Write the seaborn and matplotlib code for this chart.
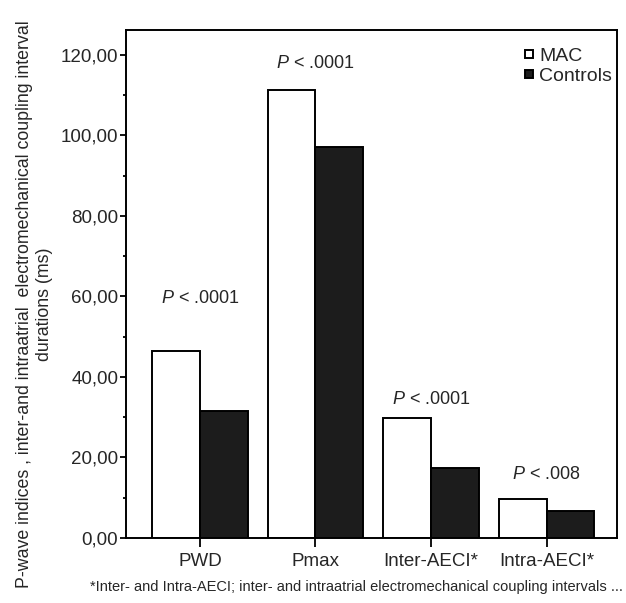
import matplotlib
matplotlib.use("Agg")
import matplotlib.pyplot as plt
import seaborn as sns
import pandas as pd
from matplotlib.lines import Line2D
from matplotlib.ticker import MultipleLocator, FuncFormatter

categories = ["PWD", "Pmax", "Inter-AECI*", "Intra-AECI*"]
mac_values = [46.5, 111.3, 29.8, 9.7]
control_values = [31.5, 97.2, 17.5, 6.8]
p_labels = ["$P$ < .0001", "$P$ < .0001", "$P$ < .0001", "$P$ < .008"]
p_label_y = [57.5, 115.8, 32.3, 13.7]
groups = ["MAC", "Controls"]

sns.set_theme(style="ticks")
plt.rcParams["font.family"] = ["Liberation Sans", "DejaVu Sans"]
plt.rcParams["mathtext.fontset"] = "custom"
plt.rcParams["mathtext.it"] = "Liberation Sans:italic"
plt.rcParams["mathtext.rm"] = "Liberation Sans"

df = pd.DataFrame({
    "cat": categories * 2,
    "group": [groups[0]] * 4 + [groups[1]] * 4,
    "value": mac_values + control_values,
})

fig = plt.figure(figsize=(6.26, 6.03), dpi=100)
ax = fig.add_axes([126 / 626, 1 - 538 / 603, (617 - 126) / 626, (538 - 30) / 603])

sns.barplot(data=df, x="cat", y="value", hue="group", order=categories,
            hue_order=groups, palette={"MAC": "white", "Controls": "#1c1c1c"},
            edgecolor="black", linewidth=1.4, width=0.83, gap=0,
            errorbar=None, legend=False, ax=ax)

ax.set_xlim(-0.64, 3.61)
ax.set_ylim(0, 126.2)
ax.yaxis.set_major_locator(MultipleLocator(20))
ax.yaxis.set_minor_locator(MultipleLocator(10))
ax.yaxis.set_major_formatter(FuncFormatter(lambda v, p: f"{v:.2f}".replace(".", ",")))
ax.tick_params(axis="y", which="major", length=4.5, width=1.3, labelsize=13.5, pad=1, color="black")
ax.tick_params(axis="y", which="minor", length=2.5, width=1.3, color="black")
ax.tick_params(axis="x", which="major", length=6.5, width=1.3, labelsize=13.5, pad=4, color="black")
for s in ax.spines.values():
    s.set_visible(True)
    s.set_linewidth(1.4)
    s.set_color("black")

ax.set_xlabel("")
ax.set_ylabel("P-wave indices , inter-and intraatrial  electromechanical coupling interval\ndurations (ms)",
              fontsize=12.75, linespacing=1.2)
ax.yaxis.set_label_coords(-(126 - 53) / 491, (538 - 304) / 508)

for i, (lab, yv) in enumerate(zip(p_labels, p_label_y)):
    ax.text(i, yv, lab, ha="center", va="bottom", fontsize=13)

handles = [
    Line2D([], [], marker="s", linestyle="none", markerfacecolor="white",
           markeredgecolor="black", markersize=5.5, markeredgewidth=1.4),
    Line2D([], [], marker="s", linestyle="none", markerfacecolor="#1c1c1c",
           markeredgecolor="black", markersize=5.5, markeredgewidth=1.4),
]
ax.legend(handles, groups, loc="upper right", frameon=False, fontsize=14,
          handlelength=0.5, handletextpad=0.25, labelspacing=0.12,
          borderpad=0, borderaxespad=0,
          bbox_to_anchor=((612 - 126) / 491, (538 - 47) / 508))

fig.text(356 / 626, 1 - 587 / 603,
         "*Inter- and Intra-AECI; inter- and intraatrial electromechanical coupling intervals ...",
         ha="center", va="center", fontsize=10.5)

fig.savefig("out.png", dpi=100)
